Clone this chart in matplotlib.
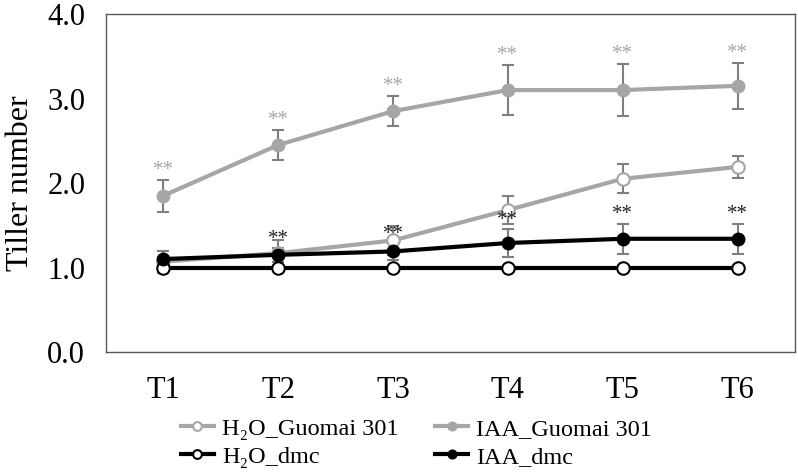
import matplotlib.pyplot as plt
import numpy as np

plt.rcParams['font.family'] = ['Liberation Serif', 'DejaVu Serif']

stages = ['T1', 'T2', 'T3', 'T4', 'T5', 'T6']

h2o_guomai = [1.07, 1.17, 1.32, 1.68, 2.05, 2.19]
h2o_guomai_err = [0.05, 0.15, 0.17, 0.17, 0.17, 0.13]
iaa_guomai = [1.85, 2.45, 2.85, 3.10, 3.10, 3.15]
iaa_guomai_err = [0.19, 0.18, 0.18, 0.30, 0.31, 0.27]
h2o_dmc = [1.0, 1.0, 1.0, 1.0, 1.0, 1.0]
h2o_dmc_err = [0.07, 0, 0, 0, 0, 0]
iaa_dmc = [1.10, 1.15, 1.19, 1.29, 1.34, 1.34]
iaa_dmc_err = [0.10, 0.08, 0.10, 0.16, 0.18, 0.18]

# significance marks
sig_guomai = ['**', '**', '**', '**', '**', '**']
sig_dmc = ['', '**', '**', '**', '**', '**']

grey = '#a6a6a6'
errc = '#7f7f7f'

fig = plt.figure(figsize=(7.98, 4.73), dpi=100)
ax = fig.add_axes([0.1328, 0.2558, 0.8634, 0.7146])
x = np.arange(len(stages))

# error bars first (below the lines)
for y, e in [(h2o_guomai, h2o_guomai_err), (iaa_guomai, iaa_guomai_err),
             (h2o_dmc, h2o_dmc_err), (iaa_dmc, iaa_dmc_err)]:
    ax.errorbar(x, y, yerr=e, fmt='none', ecolor=errc, elinewidth=1.5,
                capsize=4.5, capthick=1.5, zorder=1)

l1, = ax.plot(x, h2o_guomai, color=grey, lw=3, marker='o', ms=9,
              mfc='white', mec=grey, mew=1.5, zorder=2, label='H₂O_Guomai 301')
l2, = ax.plot(x, iaa_guomai, color=grey, lw=3, marker='o', ms=9,
              mfc=grey, mec=grey, zorder=2, label='IAA_Guomai 301')
l3, = ax.plot(x, h2o_dmc, color='black', lw=3, marker='o', ms=9,
              mfc='white', mec='black', mew=1.5, zorder=3, label='H₂O_dmc')
l4, = ax.plot(x, iaa_dmc, color='black', lw=3, marker='o', ms=9,
              mfc='black', mec='black', zorder=3, label='IAA_dmc')

for i in range(len(stages)):
    ax.text(x[i], iaa_guomai[i] + iaa_guomai_err[i], sig_guomai[i],
            ha='center', va='bottom', fontsize=15, color=grey)
    if sig_dmc[i]:
        ax.text(x[i], iaa_dmc[i] + iaa_dmc_err[i] - 0.01, sig_dmc[i],
                ha='center', va='bottom', fontsize=15, color='#222222')

ax.set_xlim(-0.5, len(stages) - 0.5)
ax.set_ylim(0, 4)
ax.set_yticks([0, 1, 2, 3, 4])
ax.set_yticklabels(['0.0', '1.0', '2.0', '3.0', '4.0'])
ax.set_xticks(x)
ax.set_xticklabels(stages)
ax.tick_params(length=0, labelsize=22)
ax.tick_params(axis='x', pad=17)
ax.tick_params(axis='y', pad=15)
ax.set_ylabel('Tiller number', fontsize=23, labelpad=9)
for s in ax.spines.values():
    s.set_color('#595959')
    s.set_linewidth(1)

fig.legend([l1, l3, l2, l4], [l1.get_label(), l3.get_label(), l2.get_label(), l4.get_label()],
           ncol=2, loc='lower center', bbox_to_anchor=(0.522, -0.035), frameon=False,
           fontsize=17.5, handlelength=1.35, columnspacing=1.5, labelspacing=0.25,
           handletextpad=0.35, markerscale=0.7)

fig.savefig('out.png', dpi=100)
